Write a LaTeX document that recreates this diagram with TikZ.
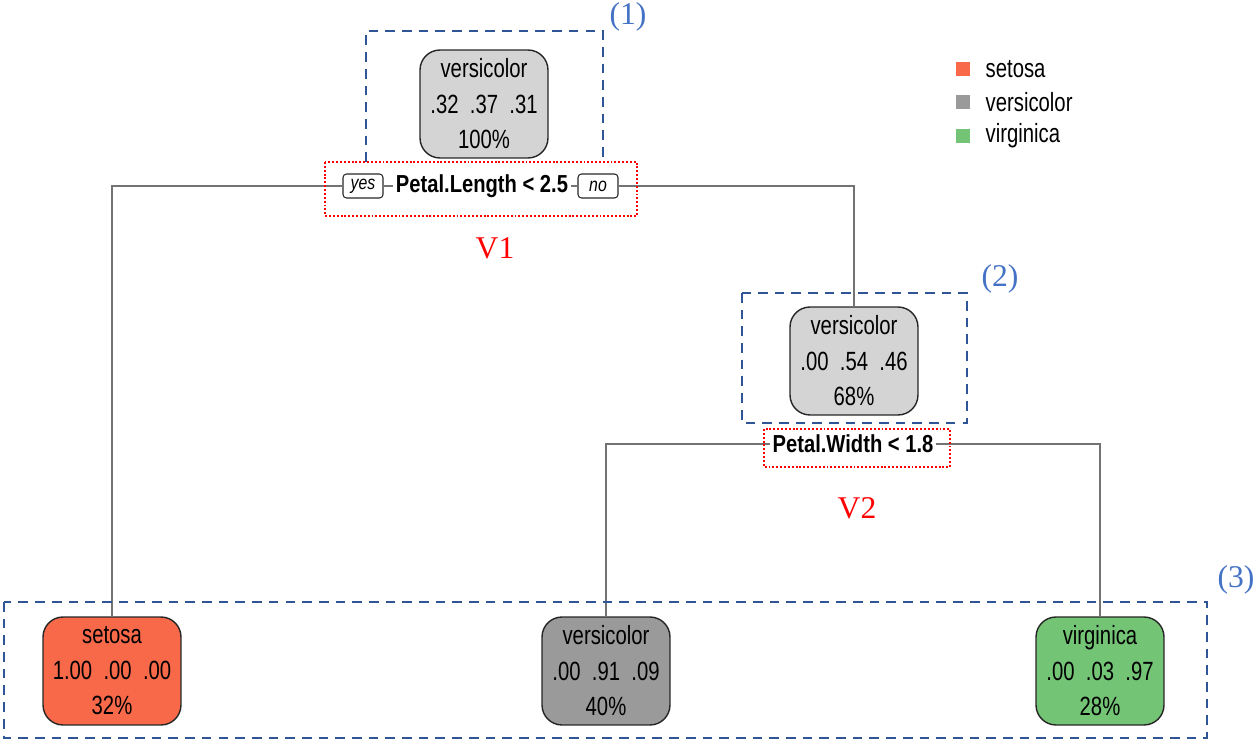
\documentclass[tikz,border=0pt]{standalone}
\usepackage{fontspec}
\setmainfont{Liberation Serif}
\newfontfamily\narrowsf[FakeStretch=0.82]{Liberation Sans}
\newfontfamily\tallsf[FakeStretch=0.77]{Liberation Sans}
\usetikzlibrary{positioning}
\definecolor{setosacol}{HTML}{F8694A}
\definecolor{versicol}{HTML}{9A9A9A}
\definecolor{virgcol}{HTML}{74C476}
\definecolor{mixcol}{HTML}{D4D4D4}
\definecolor{groupblue}{HTML}{2F5597}
\definecolor{tagblue}{HTML}{4472C4}

\begin{document}
\begin{tikzpicture}[x=0.02cm, y=-0.02cm,
	   font=\tallsf\fontsize{15pt}{20.2pt}\selectfont,
	   nd/.style={draw=black!85, line width=0.8pt, rounded corners=0.4cm, align=center,
	     minimum width=2.56cm, minimum height=2.16cm, inner sep=1pt},
	   yn/.style={draw=black!85, line width=0.6pt, rounded corners=2pt, inner sep=2pt,
	     minimum width=0.8cm, minimum height=0.48cm, font=\narrowsf\itshape\fontsize{11pt}{12pt}\selectfont},
	   sp/.style={inner sep=1.5pt, font=\narrowsf\bfseries\fontsize{14pt}{16pt}\selectfont},
	   br/.style={draw=black!55, line width=0.85pt},
	   grp/.style={draw=groupblue, line width=1.4pt, dash pattern=on 5.5pt off 4pt},
	   dot/.style={draw=red, line width=1.1pt, dash pattern=on 1.1pt off 1.1pt},
	   tag/.style={text=tagblue, font=\fontsize{18pt}{20pt}\selectfont},
	   vl/.style={text=red, font=\fontsize{18pt}{20pt}\selectfont},
	   key/.style={minimum size=0.28cm, inner sep=0pt}]
	  \useasboundingbox (0,0) rectangle (1255,740);
	  % tree nodes
	  \node[nd, fill=mixcol] (root) at (484,104) {versicolor\\.32\ \ .37\ \ .31\\100\%};
	  \node[nd, fill=mixcol] (n2) at (854,361) {versicolor\\.00\ \ .54\ \ .46\\68\%};
	  \node[nd, fill=setosacol, minimum width=2.76cm] (setosa) at (112,671) {setosa\\1.00\ \ .00\ \ .00\\32\%};
	  \node[nd, fill=versicol] (vers) at (606,671) {versicolor\\.00\ \ .91\ \ .09\\40\%};
	  \node[nd, fill=virgcol] (virg) at (1100,671) {virginica\\.00\ \ .03\ \ .97\\28\%};
	  % split labels
	  \node[sp] (s1) at (482,186) {Petal.Length < 2.5};
	  \node[yn] (yes) at (363,186) {yes};
	  \node[yn] (no) at (598,186) {no};
	  \node[sp] (s2) at (853,444) {Petal.Width < 1.8};
	  % branches
	  \draw[br] (yes.west) -| (setosa.north);
	  \draw[br] (yes) -- (s1);
	  \draw[br] (s1) -- (no);
	  \draw[br] (no.east) -| (n2.north);
	  \draw[br] (s2.west) -| (vers.north);
	  \draw[br] (s2.east) -| (virg.north);
	  % annotations
	  \draw[grp] (366,162) -- (366,31) -- (603,31) -- (603,162);
	  \draw[grp] (742,293) rectangle (967,423);
	  \draw[grp] (4,602) rectangle (1207,738);
	  \draw[dot] (325,162) rectangle (637,216);
	  \draw[dot] (764,429) rectangle (950,467);
	  \node[tag] (t1) at (628,17) {(1)};
	  \node[tag] (t2) at (1000,279) {(2)};
	  \node[tag] (t3) at (1236,580) {(3)};
	  \node[vl] (v1) at (495,248) {V1};
	  \node[vl] (v2) at (857,508) {V2};
	  % legend
	  \node[key, fill=setosacol] (k1) at (963,69) {};
	  \node[key, fill=versicol] (k2) at (963,102) {};
	  \node[key, fill=virgcol] (k3) at (963,136) {};
	  \node[right=0.3cm of k1, inner sep=0pt] {setosa};
	  \node[right=0.3cm of k2, inner sep=0pt] {versicolor};
	  \node[right=0.3cm of k3, inner sep=0pt] {virginica};
	\end{tikzpicture}
\end{document}
